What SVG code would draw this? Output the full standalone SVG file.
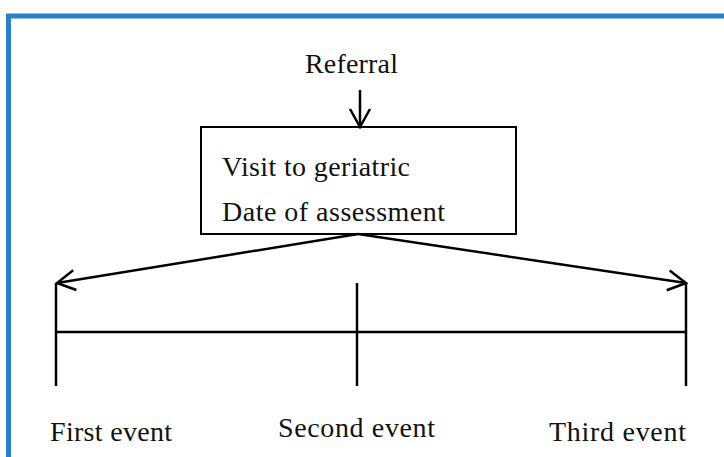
<svg xmlns="http://www.w3.org/2000/svg" width="724" height="457" viewBox="0 0 724 457">
<defs>
<style>
.t{font-family:"Liberation Serif","Times New Roman",serif;font-size:28px;fill:#111}
.ln{stroke:#000;stroke-width:2.5;fill:none}
</style>
<marker id="ah" viewBox="-20 -12 22 24" refX="0" refY="0" markerWidth="22" markerHeight="24" markerUnits="userSpaceOnUse" orient="auto">
<path d="M-18,-10 L0,0 L-18,10" fill="none" stroke="#000" stroke-width="2.5"/>
</marker>
</defs>
<rect width="724" height="457" fill="#fff"/>
<path d="M8.5,457 V16 H724" fill="none" stroke="#2a80c4" stroke-width="5"/>
<g id="referral"><text class="t" x="305" y="73" textLength="93">Referral</text></g>
<g id="visit">
<rect x="201" y="127" width="315" height="107" fill="#fff" stroke="#000" stroke-width="2"/>
<text class="t" x="222" y="176" textLength="188">Visit to geriatric</text>
<text class="t" x="222" y="221" textLength="223">Date of assessment</text>
</g>
<g id="timeline">
<line class="ln" x1="56" y1="283" x2="56" y2="386"/>
<line class="ln" x1="357" y1="283" x2="357" y2="386"/>
<line class="ln" x1="686" y1="283" x2="686" y2="386"/>
<line class="ln" x1="56" y1="332" x2="686" y2="332"/>
</g>
<g id="first"><text class="t" x="50" y="441" textLength="122">First event</text></g>
<g id="second"><text class="t" x="278" y="437" textLength="157">Second event</text></g>
<g id="third"><text class="t" x="549" y="441" textLength="137">Third event</text></g>
<g id="connectors">
<line class="ln" x1="360" y1="90" x2="360" y2="127" marker-end="url(#ah)"/>
<line class="ln" x1="358" y1="234" x2="57" y2="283" marker-end="url(#ah)"/>
<line class="ln" x1="358" y1="234" x2="686" y2="283" marker-end="url(#ah)"/>
</g>
</svg>
